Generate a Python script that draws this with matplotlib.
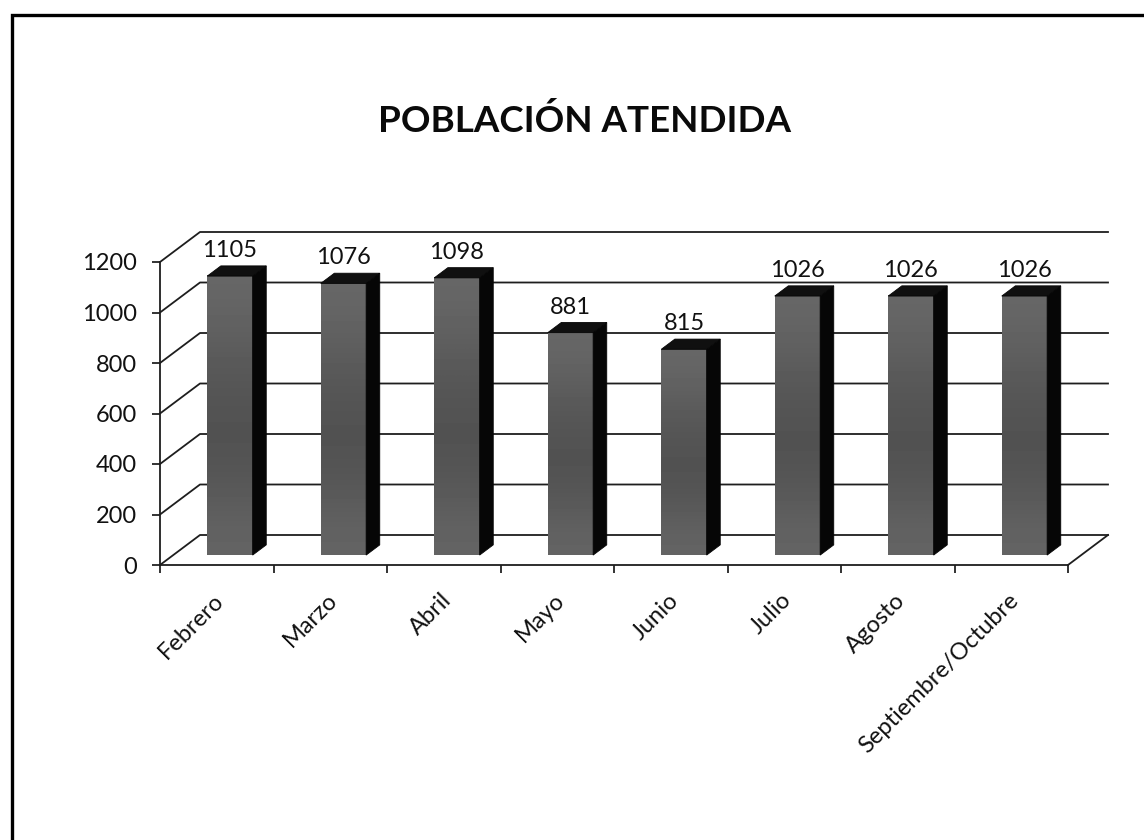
import numpy as np
import matplotlib.pyplot as plt
import matplotlib.transforms as mtransforms
from matplotlib.patches import Polygon, Rectangle

meses = ["Febrero", "Marzo", "Abril", "Mayo", "Junio", "Julio", "Agosto",
         "Septiembre/Octubre"]
atendidos = [1105, 1076, 1098, 881, 815, 1026, 1026, 1026]
y_ticks = [0, 200, 400, 600, 800, 1000, 1200]

plt.rcParams['font.family'] = ['Lato', 'DejaVu Sans']

W, H = 1144, 840
fig = plt.figure(figsize=(W / 100, H / 100), dpi=100)
# front plane of the 3d box
ax = fig.add_axes([160 / W, (H - 565) / H, 908 / W, 303 / H])
n = len(meses)

# oblique depth of the box in data units
DX = 40 / 113.5
DY = 30 / (303 / 1200)
f0, f1 = 0.33, 0.67   # bars sit in the middle of the depth
ancho = 0.4

# side wall, back wall gridlines and floor
line_kw = dict(color='#1e1e1e', lw=1.3, clip_on=False, zorder=1)
for g in y_ticks:
    ax.plot([0, DX, n + DX], [g, g + DY, g + DY], **line_kw)
ax.plot([n, n + DX], [0, DY], **line_kw)

# vertical shading of the front faces
grad = np.array([0.40, 0.38, 0.35, 0.33, 0.32, 0.33, 0.36, 0.39]).reshape(-1, 1)

ddx, ddy = (f1 - f0) * DX, (f1 - f0) * DY
for i, v in enumerate(atendidos):
    xl = i + 0.5 - ancho / 2 + f0 * DX
    xr = xl + ancho
    y0 = f0 * DY
    y1 = v + f0 * DY
    ax.imshow(grad, cmap='gray', vmin=0, vmax=1, extent=(xl, xr, y0, y1),
              aspect='auto', interpolation='bicubic', zorder=3, clip_on=False)
    ax.add_patch(Polygon([(xr, y0), (xr + ddx, y0 + ddy), (xr + ddx, y1 + ddy), (xr, y1)],
                         closed=True, fc='#060606', ec='#060606', lw=0.6,
                         zorder=3, clip_on=False))
    ax.add_patch(Polygon([(xl, y1), (xr, y1), (xr + ddx, y1 + ddy), (xl + ddx, y1 + ddy)],
                         closed=True, fc='#101010', ec='#060606', lw=0.6,
                         zorder=3, clip_on=False))
    ax.annotate(str(v), (xl + ancho / 2, y1), xytext=(0, 13.7),
                textcoords='offset points', ha='center', va='baseline',
                fontsize=17, color='#111111')

ax.set_xlim(0, n)
ax.set_ylim(0, 1200)

ax.set_yticks(y_ticks)
ax.tick_params(axis='y', direction='out', length=5.8, width=1.2, pad=11,
               labelsize=17, colors='#111111')
ax.set_xticks(range(n + 1))
ax.set_xticklabels([])
ax.set_xticks(np.arange(n) + 0.5, minor=True)
ax.set_xticklabels(meses, minor=True, rotation=45, ha='right', va='center',
                   rotation_mode='anchor')
ax.tick_params(axis='x', which='major', direction='out', length=5.8, width=1.2,
               colors='#111111')
ax.tick_params(axis='x', which='minor', length=0, pad=23, labelsize=17,
               colors='#111111')
# nudge the month names a little to the right
shift = mtransforms.ScaledTranslation(4 / 100, 0, fig.dpi_scale_trans)
for lab in ax.get_xticklabels(minor=True):
    lab.set_transform(lab.get_transform() + shift)
for s in ['top', 'right']:
    ax.spines[s].set_visible(False)
for s in ['left', 'bottom']:
    ax.spines[s].set_linewidth(1.3)
    ax.spines[s].set_color('#1e1e1e')
ax.patch.set_visible(False)

fig.text(585 / W, (H - 132) / H, 'POBLACIÓN ATENDIDA', ha='center',
         va='baseline', fontsize=26.5, fontweight='bold', color='#0a0a0a')

# page frame
fig.add_artist(Rectangle((11.5 / W, -0.1), 2, (H - 14.5) / H + 0.1,
                         transform=fig.transFigure, fill=False, lw=2.4,
                         ec='black'))

fig.savefig('out.png', dpi=100)
